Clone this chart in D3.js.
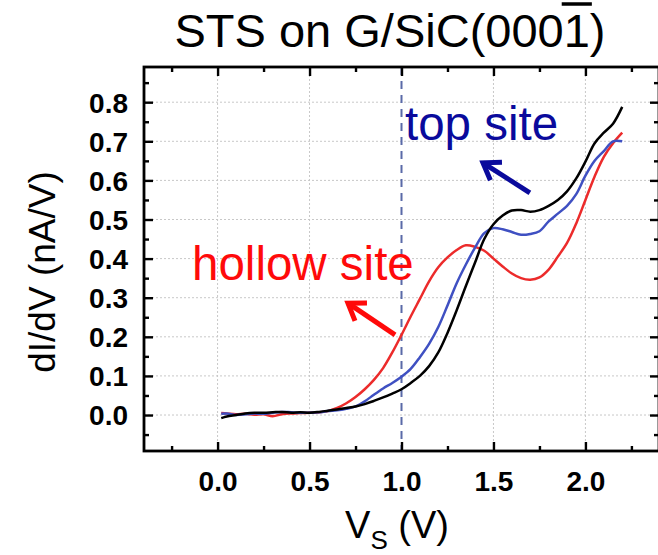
<!DOCTYPE html>
<html>
<head>
<meta charset="utf-8">
<script src="https://cdn.jsdelivr.net/npm/d3@7"></script>
<style>
  html, body { margin: 0; padding: 0; background: #fff; }
  svg { display: block; font-family: "Liberation Sans", Arial, sans-serif; }
</style>
</head>
<body>
<svg id="chart" width="658" height="555"></svg>
<script>
// Sample bias (V)
const voltage = [0.02, 0.05, 0.10, 0.15, 0.20, 0.25, 0.30, 0.35, 0.40, 0.45,
  0.50, 0.55, 0.60, 0.65, 0.70, 0.75, 0.80, 0.85, 0.90, 0.95,
  1.00, 1.05, 1.10, 1.15, 1.20, 1.25, 1.30, 1.35, 1.40, 1.45,
  1.50, 1.55, 1.60, 1.65, 1.70, 1.75, 1.80, 1.85, 1.90, 1.95,
  2.00, 2.05, 2.10, 2.15, 2.20];

// dI/dV spectra (nA/V)
const hollowSite = [0.005, 0.004, 0.002, 0.003, 0.001, 0.002, -0.003, 0.002, 0.004, 0.005,
  0.006, 0.007, 0.010, 0.018, 0.030, 0.046, 0.066, 0.090, 0.120, 0.160,
  0.205, 0.252, 0.297, 0.342, 0.378, 0.403, 0.422, 0.434, 0.430, 0.420,
  0.400, 0.380, 0.362, 0.350, 0.346, 0.352, 0.372, 0.405, 0.440, 0.490,
  0.550, 0.610, 0.660, 0.695, 0.722];

const topSite = [0.003, 0.004, 0.000, 0.002, 0.004, 0.003, 0.006, 0.008, 0.007, 0.006,
  0.006, 0.007, 0.010, 0.012, 0.016, 0.022, 0.035, 0.052, 0.068, 0.082,
  0.098, 0.118, 0.148, 0.182, 0.225, 0.280, 0.337, 0.385, 0.428, 0.465,
  0.478, 0.475, 0.468, 0.461, 0.463, 0.470, 0.495, 0.515, 0.535, 0.565,
  0.612, 0.650, 0.675, 0.700, 0.700];

const bridgeSite = [-0.008, -0.004, 0.000, 0.004, 0.006, 0.006, 0.007, 0.008, 0.006, 0.007,
  0.006, 0.008, 0.011, 0.014, 0.018, 0.022, 0.028, 0.036, 0.045, 0.055,
  0.066, 0.082, 0.100, 0.125, 0.160, 0.210, 0.268, 0.330, 0.390, 0.450,
  0.488, 0.510, 0.523, 0.524, 0.520, 0.524, 0.535, 0.550, 0.572, 0.605,
  0.648, 0.695, 0.722, 0.745, 0.788];

const xTicks = [0.0, 0.5, 1.0, 1.5, 2.0];
const yTicks = [0.0, 0.1, 0.2, 0.3, 0.4, 0.5, 0.6, 0.7, 0.8];
const xDomain = [-0.4, 2.4];
const yDomain = [-0.092, 0.89];
const markerBias = 1.0;

const svg = d3.select("#chart");
const plotLeft = 144, plotRight = 659, plotTop = 67, plotBottom = 451;

const x = d3.scaleLinear().domain(xDomain).range([plotLeft, plotRight]);
const y = d3.scaleLinear().domain(yDomain).range([plotBottom, plotTop]);

// Dotted grid at major ticks
const grid = svg.append("g").attr("stroke", "#c8c8c8").attr("stroke-width", 1)
  .attr("stroke-dasharray", "2,2");
xTicks.filter(v => v !== markerBias).forEach(v => {
  grid.append("line").attr("x1", x(v)).attr("x2", x(v)).attr("y1", plotTop).attr("y2", plotBottom);
});
yTicks.forEach(v => {
  grid.append("line").attr("x1", plotLeft).attr("x2", plotRight).attr("y1", y(v)).attr("y2", y(v));
});

// Dashed marker at 1.0 V
svg.append("line")
  .attr("x1", x(markerBias)).attr("x2", x(markerBias))
  .attr("y1", plotTop).attr("y2", plotBottom)
  .attr("stroke", "#5a6aa8").attr("stroke-width", 2)
  .attr("stroke-dasharray", "8,6");

// Spectra
const line = d3.line()
  .x((d, i) => x(voltage[i]))
  .y(d => y(d))
  .curve(d3.curveCatmullRom.alpha(0.5));

[[hollowSite, "#ec2b2b"], [topSite, "#3f50c2"], [bridgeSite, "#000000"]].forEach(([vals, col]) => {
  svg.append("path").datum(vals)
    .attr("d", line)
    .attr("fill", "none")
    .attr("stroke", col)
    .attr("stroke-width", 2.5)
    .attr("stroke-linejoin", "round");
});

// Axes with inward ticks on all four sides
const xMinor = d3.range(-0.25, 2.4, 0.5);
const yMinor = d3.range(-0.05, 0.9, 0.1);

const xAxisB = d3.axisBottom(x).tickValues(xTicks).tickSizeInner(-9).tickSizeOuter(0).tickFormat(d3.format(".1f"));
const xAxisT = d3.axisTop(x).tickValues(xTicks).tickSizeInner(-9).tickSizeOuter(0).tickFormat("");
const yAxisL = d3.axisLeft(y).tickValues(yTicks).tickSizeInner(-9).tickSizeOuter(0).tickFormat(d3.format(".1f"));
const yAxisR = d3.axisRight(y).tickValues(yTicks).tickSizeInner(-9).tickSizeOuter(0).tickFormat("");

const gB = svg.append("g").attr("transform", `translate(0,${plotBottom})`).call(xAxisB);
svg.append("g").attr("transform", `translate(0,${plotTop})`).call(xAxisT);
const gL = svg.append("g").attr("transform", `translate(${plotLeft},0)`).call(yAxisL);
svg.append("g").attr("transform", `translate(${plotRight},0)`).call(yAxisR);

svg.append("g").attr("transform", `translate(0,${plotBottom})`)
  .call(d3.axisBottom(x).tickValues(xMinor).tickSizeInner(-5).tickSizeOuter(0).tickFormat(""));
svg.append("g").attr("transform", `translate(0,${plotTop})`)
  .call(d3.axisTop(x).tickValues(xMinor).tickSizeInner(-5).tickSizeOuter(0).tickFormat(""));
svg.append("g").attr("transform", `translate(${plotLeft},0)`)
  .call(d3.axisLeft(y).tickValues(yMinor).tickSizeInner(-5).tickSizeOuter(0).tickFormat(""));
svg.append("g").attr("transform", `translate(${plotRight},0)`)
  .call(d3.axisRight(y).tickValues(yMinor).tickSizeInner(-5).tickSizeOuter(0).tickFormat(""));

svg.selectAll(".domain").remove();
svg.selectAll(".tick line").attr("stroke", "#000").attr("stroke-width", 2.4);

// Frame
svg.append("rect").attr("x", plotLeft).attr("y", plotTop)
  .attr("width", plotRight - plotLeft).attr("height", plotBottom - plotTop)
  .attr("fill", "none").attr("stroke", "#000").attr("stroke-width", 2.8);

gB.selectAll(".tick text")
  .attr("font-family", "Liberation Sans, Arial, sans-serif")
  .attr("font-size", 28).attr("font-weight", "bold").attr("fill", "#000")
  .attr("dy", null).attr("y", 40);
gL.selectAll(".tick text")
  .attr("font-family", "Liberation Sans, Arial, sans-serif")
  .attr("font-size", 28).attr("font-weight", "bold").attr("fill", "#000")
  .attr("x", -16).attr("dy", "0.35em");

// Title with overbar on the final index
const title = svg.append("text")
  .attr("x", 390).attr("y", 47)
  .attr("text-anchor", "middle")
  .attr("font-size", 47).attr("fill", "#000");
title.append("tspan").text("STS on G/SiC(000");
title.append("tspan").attr("id", "bar1").text("1");
title.append("tspan").text(")");
const b = document.getElementById("bar1").getBBox();
svg.append("line")
  .attr("x1", b.x - 2).attr("x2", b.x + b.width + 2)
  .attr("y1", 4).attr("y2", 4)
  .attr("stroke", "#000").attr("stroke-width", 3.5);

// Axis titles
svg.append("text")
  .attr("transform", "translate(55,272) rotate(-90)")
  .attr("text-anchor", "middle")
  .attr("font-size", 37).attr("fill", "#000")
  .text("dI/dV (nA/V)");

const xt = svg.append("text")
  .attr("x", 397).attr("y", 538)
  .attr("text-anchor", "middle")
  .attr("font-size", 38).attr("fill", "#000");
xt.append("tspan").text("V");
xt.append("tspan").attr("font-size", 26).attr("dy", 11).text("S");
xt.append("tspan").attr("dy", -11).text(" (V)");

// Site labels and arrows
function arrow(x1, y1, x2, y2, color) {
  const g = svg.append("g").attr("stroke", color).attr("stroke-width", 5)
    .attr("stroke-linecap", "butt").attr("fill", "none");
  const px1 = x(x1), py1 = y(y1), px2 = x(x2), py2 = y(y2);
  g.append("line").attr("x1", px1).attr("y1", py1).attr("x2", px2).attr("y2", py2);
  const ang = Math.atan2(py1 - py2, px1 - px2);
  const len = 19, spread = 0.6;
  g.append("path")
    .attr("d", `M${px2 + len * Math.cos(ang + spread)},${py2 + len * Math.sin(ang + spread)}` +
      `L${px2},${py2}L${px2 + len * Math.cos(ang - spread)},${py2 + len * Math.sin(ang - spread)}`)
    .attr("stroke-linejoin", "miter");
}

svg.append("text").attr("x", x(1.019)).attr("y", y(0.703))
  .attr("font-size", 47.5).attr("fill", "#0a0a9c").text("top site");
arrow(1.698, 0.568, 1.443, 0.645, "#0a0a9c");

svg.append("text").attr("x", x(-0.139)).attr("y", y(0.345))
  .attr("font-size", 47.5).attr("fill", "#ff0a0a").text("hollow site");
arrow(0.965, 0.205, 0.709, 0.286, "#ff0a0a");
</script>
</body>
</html>
